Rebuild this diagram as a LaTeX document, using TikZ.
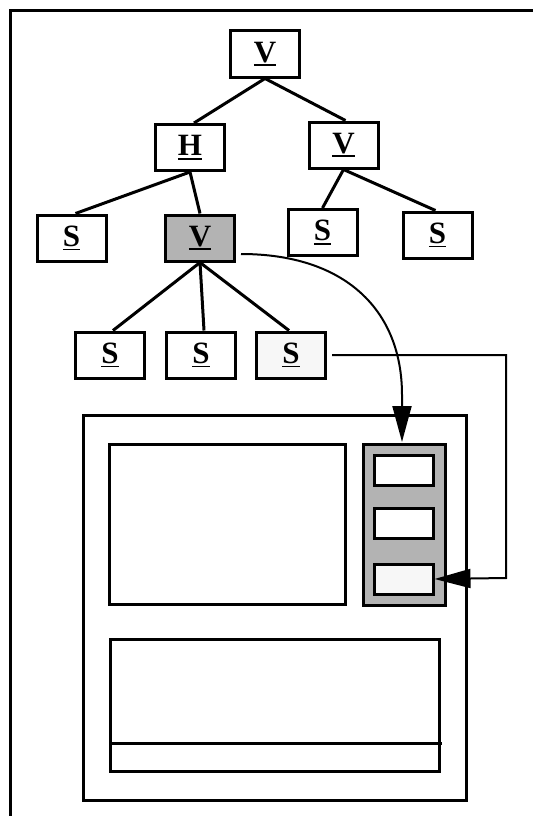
\documentclass[tikz,border=0pt]{standalone}
\usepackage{fontspec}
\setmainfont{Liberation Serif}
\usetikzlibrary{arrows.meta,calc}
\definecolor{boxgray}{RGB}{179,179,179}
\definecolor{lightfill}{RGB}{247,247,247}
\newcommand{\myul}[1]{\setbox0\hbox{#1}\rlap{\rule[-4.2pt]{\wd0}{1.8pt}}\box0}
\tikzset{
  tbox/.style={draw, line width=3pt, minimum width=69pt, minimum height=46pt, inner sep=0pt,
    font=\fontsize{31}{31}\selectfont\bfseries, fill=white},
  plainbox/.style={draw, line width=3pt, inner sep=0pt, fill=white},
  edge/.style={line width=3pt},
  conn/.style={line width=2pt},
  bigtip/.style={-{Triangle[length=36pt,width=19pt]}}
}
\begin{document}
\begin{tikzpicture}[x=1pt,y=-1pt]
\useasboundingbox (0,0) rectangle (533,816);
\draw[line width=3pt] (10,816) -- (10,11) -- (533,11);

% tree nodes
\node[tbox] (topV) at (265,54) {\myul{V}};
\node[tbox] (H) at (190,147.5) {\myul{H}};
\node[tbox] (rV) at (343.5,145) {\myul{V}};
\node[tbox] (Sl) at (71.5,238) {\myul{S}};
\node[tbox, fill=boxgray] (gV) at (200,238) {\myul{V}};
\node[tbox] (Sr1) at (322.5,232.5) {\myul{S}};
\node[tbox] (Sr2) at (437.5,235) {\myul{S}};
\node[tbox] (S1) at (110,355) {\myul{S}};
\node[tbox] (S2) at (201,355) {\myul{S}};
\node[tbox, fill=lightfill] (S3) at (291,355) {\myul{S}};

% tree edges
\draw[edge] (topV.south) -- ($(H.north)+(4,0)$);
\draw[edge] (topV.south) -- ($(rV.north)+(2,0)$);
\draw[edge] (H.south) -- ($(Sl.north)+(4,0)$);
\draw[edge] (H.south) -- (gV.north);
\draw[edge] (rV.south) -- (Sr1.north);
\draw[edge] (rV.south) -- ($(Sr2.north)+(-2,0)$);
\draw[edge] (gV.south) -- ($(S1.north)+(3,0)$);
\draw[edge] (gV.south) -- ($(S2.north)+(3,0)$);
\draw[edge] (gV.south) -- ($(S3.north)+(-2,0)$);

% bottom layout
\node[plainbox, minimum width=383pt, minimum height=385pt] (frame) at (274.5,607.5) {};
\node[plainbox, minimum width=236pt, minimum height=160pt] (leftrect) at (227,524) {};
\node[plainbox, fill=boxgray, minimum width=82pt, minimum height=161pt] (graybox) at (404,524.5) {};
\node[plainbox, minimum width=59pt, minimum height=30pt] (ib1) at (403.5,470) {};
\node[plainbox, minimum width=59pt, minimum height=30pt] (ib2) at (403.5,523) {};
\node[plainbox, fill=lightfill, minimum width=59pt, minimum height=30pt] (ib3) at (403.5,579) {};
\node[plainbox, minimum width=329pt, minimum height=132pt] (botrect) at (274.5,705) {};
\coordinate (lineL) at (112,743);
\coordinate (lineR) at (442,743);
\draw[line width=3pt] (lineL) -- (lineR);

% connectors
\coordinate (curveEnd) at (402,442);
\draw[conn, bigtip] ($(gV.east)+(5,16)$) .. controls (345,254) and (402,310) .. (402,395) -- (curveEnd);
\coordinate (c1) at (506,355);
\coordinate (c2) at (506,578);
\draw[conn, bigtip] ($(S3.east)+(5,0)$) -- (c1) -- (c2) -- (ib3.east);
\end{tikzpicture}
\end{document}
